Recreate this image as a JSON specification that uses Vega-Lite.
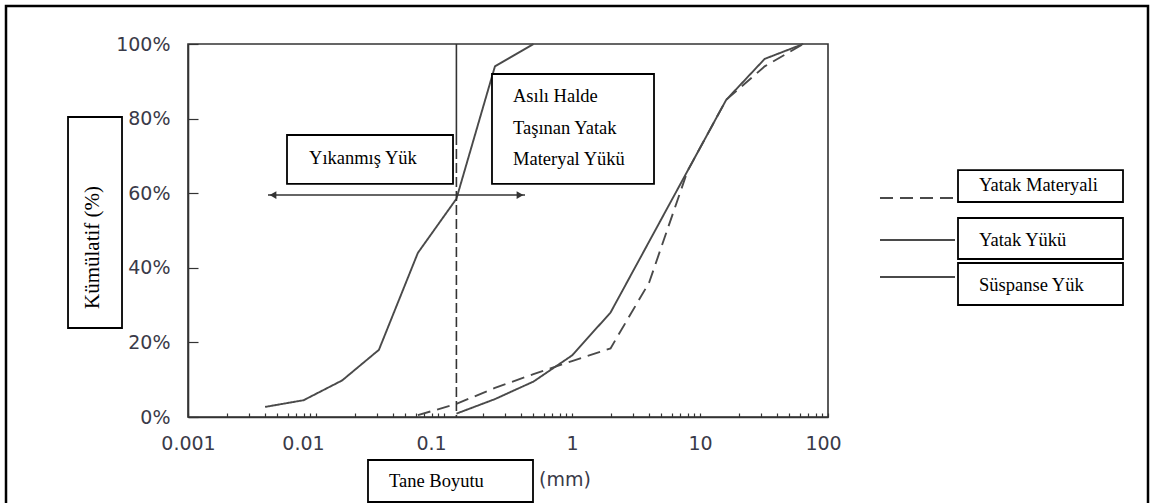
{
  "$schema": "https://vega.github.io/schema/vega-lite/v6.json",
  "width": 640,
  "height": 373,
  "autosize": {"type": "none"},
  "padding": {"left": 188, "top": 44, "right": 323, "bottom": 86},
  "background": "white",
  "config": {
    "view": {"stroke": "#333333", "strokeWidth": 1.6},
    "axis": {"domainColor": "#333333", "domainWidth": 1.6, "tickColor": "#333333", "tickWidth": 1.2, "grid": false, "labelFont": "DejaVu Sans", "labelFontSize": 19, "labelColor": "#3a3a48"}
  },
  "datasets": {
    "curves": [
      {"x": 0.004, "y": 2.7, "series": "Süspanse Yük"},
      {"x": 0.008, "y": 4.5, "series": "Süspanse Yük"},
      {"x": 0.016, "y": 9.8, "series": "Süspanse Yük"},
      {"x": 0.031, "y": 18, "series": "Süspanse Yük"},
      {"x": 0.0625, "y": 44, "series": "Süspanse Yük"},
      {"x": 0.125, "y": 58.5, "series": "Süspanse Yük"},
      {"x": 0.25, "y": 94, "series": "Süspanse Yük"},
      {"x": 0.5, "y": 100, "series": "Süspanse Yük"},
      {"x": 0.125, "y": 0.9, "series": "Yatak Yükü"},
      {"x": 0.25, "y": 4.8, "series": "Yatak Yükü"},
      {"x": 0.5, "y": 9.5, "series": "Yatak Yükü"},
      {"x": 1, "y": 16.5, "series": "Yatak Yükü"},
      {"x": 2, "y": 28, "series": "Yatak Yükü"},
      {"x": 4, "y": 47, "series": "Yatak Yükü"},
      {"x": 8, "y": 66, "series": "Yatak Yükü"},
      {"x": 16, "y": 85, "series": "Yatak Yükü"},
      {"x": 32, "y": 96, "series": "Yatak Yükü"},
      {"x": 64, "y": 100, "series": "Yatak Yükü"},
      {"x": 0.0625, "y": 0.5, "series": "Yatak Materyali"},
      {"x": 0.125, "y": 3.5, "series": "Yatak Materyali"},
      {"x": 0.25, "y": 7.8, "series": "Yatak Materyali"},
      {"x": 0.5, "y": 11.5, "series": "Yatak Materyali"},
      {"x": 1, "y": 15, "series": "Yatak Materyali"},
      {"x": 2, "y": 18.4, "series": "Yatak Materyali"},
      {"x": 4, "y": 36, "series": "Yatak Materyali"},
      {"x": 8, "y": 66, "series": "Yatak Materyali"},
      {"x": 16, "y": 85, "series": "Yatak Materyali"},
      {"x": 32, "y": 94, "series": "Yatak Materyali"},
      {"x": 64, "y": 100, "series": "Yatak Materyali"}
    ],
    "legendLines": [
      {"x": 254.8, "x2": 982, "y": 58.71, "series": "Yatak Materyali"},
      {"x": 254.8, "x2": 982, "y": 47.45, "series": "Yatak Yükü"},
      {"x": 254.8, "x2": 982, "y": 37.53, "series": "Süspanse Yük"}
    ],
    "boxes": [
      {"x": 0.005935, "x2": 0.1176, "y": 75.6, "y2": 62.5},
      {"x": 0.2371, "x2": 4.372, "y": 91.96, "y2": 62.5},
      {"x": 0.0001155, "x2": 0.0003051, "y": 80.43, "y2": 23.86},
      {"x": 0.02548, "x2": 0.4958, "y": -11.53, "y2": -22.79},
      {"x": 1036.6, "x2": 20171, "y": 66.2, "y2": 57.64},
      {"x": 1036.6, "x2": 20171, "y": 53.35, "y2": 42.36},
      {"x": 1036.6, "x2": 20171, "y": 41.29, "y2": 30.03}
    ],
    "texts": [
      {"x": 0.00882, "y": 69.4, "label": "Yıkanmış Yük"},
      {"x": 0.3459, "y": 86.06, "label": "Asılı Halde"},
      {"x": 0.3459, "y": 77.48, "label": "Taşınan Yatak"},
      {"x": 0.3459, "y": 69.17, "label": "Materyal Yükü"},
      {"x": 0.03718, "y": -17.16, "label": "Tane Boyutu"},
      {"x": 1512, "y": 62.2, "label": "Yatak Materyali"},
      {"x": 1512, "y": 47.45, "label": "Yatak Yükü"},
      {"x": 1512, "y": 35.39, "label": "Süspanse Yük"}
    ],
    "frame": [
      {"x": 0.00003786, "x2": 31623, "y": 110.19, "y2": -30}
    ]
  },
  "encoding": {
    "x": {"field": "x", "type": "quantitative", "scale": {"type": "log", "domain": [0.001, 100], "nice": false},
      "axis": {
        "title": null,
        "values": [0.001,0.002,0.003,0.004,0.005,0.006,0.007,0.008,0.009,0.01,0.02,0.03,0.04,0.05,0.06,0.07,0.08,0.09,0.1,0.2,0.3,0.4,0.5,0.6,0.7,0.8,0.9,1,2,3,4,5,6,7,8,9,10,20,30,40,50,60,70,80,90,100],
        "labelExpr": "indexof(['0.001','0.01','0.1','1','10','100'], format(datum.value, '~g')) >= 0 ? format(datum.value, '~g') : ''",
        "labelOffset": {"condition": [{"test": "datum.value > 0.005 && datum.value < 0.5", "value": -13}, {"test": "datum.value > 50", "value": -5}], "value": 0},
        "tickSize": -4, "labelPadding": 21, "labelOverlap": false, "labelFlush": false
      }},
    "y": {"field": "y", "type": "quantitative", "scale": {"domain": [0, 100], "nice": false, "zero": false},
      "axis": {"title": null, "values": [0, 20, 40, 60, 80, 100], "labelExpr": "datum.value + '%'", "tickSize": -10, "labelPadding": 28}}
  },
  "layer": [
    {
      "data": {"name": "curves"},
      "mark": {"type": "line", "strokeWidth": 1.9, "color": "#4a4a4a"},
      "encoding": {
        "detail": {"field": "series"},
        "strokeDash": {"field": "series", "type": "nominal", "scale": {"domain": ["Yatak Materyali", "Yatak Yükü", "Süspanse Yük"], "range": [[13, 7], [1, 0], [1, 0]]}, "legend": null}
      }
    },
    {
      "data": {"values": [{"x": 0.125, "y": 100, "y2": 75.6}]},
      "mark": {"type": "rule", "strokeWidth": 1.6, "color": "#333333", "clip": false},
      "encoding": {"y2": {"field": "y2"}}
    },
    {
      "data": {"values": [{"x": 0.125, "y": 75.6, "y2": 0}]},
      "mark": {"type": "rule", "strokeWidth": 1.6, "color": "#333333", "strokeDash": [10, 4], "clip": false},
      "encoding": {"y2": {"field": "y2"}}
    },
    {
      "data": {"values": [{"x": 0.004217, "x2": 0.4294, "y": 59.5}]},
      "mark": {"type": "rule", "strokeWidth": 1.6, "color": "#333333", "clip": false},
      "encoding": {"x2": {"field": "x2"}}
    },
    {
      "data": {"values": [{"x": 0.004613, "y": 59.5, "dir": "left"}, {"x": 0.3924, "y": 59.5, "dir": "right"}]},
      "mark": {"type": "point", "filled": true, "size": 60, "color": "#333333", "opacity": 1, "clip": false},
      "encoding": {
        "shape": {"field": "dir", "type": "nominal", "scale": {"domain": ["left", "right"], "range": ["triangle-left", "triangle-right"]}, "legend": null}
      }
    },
    {
      "data": {"name": "legendLines"},
      "mark": {"type": "rule", "strokeWidth": 2, "color": "#4a4a4a", "clip": false},
      "encoding": {
        "x2": {"field": "x2"},
        "strokeDash": {"field": "series", "type": "nominal", "legend": null}
      }
    },
    {
      "data": {"name": "boxes"},
      "mark": {"type": "rect", "fill": "white", "stroke": "black", "strokeWidth": 1.8, "clip": false},
      "encoding": {"x2": {"field": "x2"}, "y2": {"field": "y2"}}
    },
    {
      "data": {"name": "texts"},
      "mark": {"type": "text", "align": "left", "baseline": "middle", "font": "Liberation Serif, Times New Roman, serif", "fontSize": 18.5, "color": "black", "clip": false},
      "encoding": {"text": {"field": "label"}}
    },
    {
      "data": {"values": [{"x": 0.0001811, "y": 45.44, "label": "Kümülatif (%)"}]},
      "mark": {"type": "text", "align": "center", "baseline": "middle", "angle": 270, "font": "Liberation Serif, Times New Roman, serif", "fontSize": 21, "color": "black", "clip": false},
      "encoding": {"text": {"field": "label"}}
    },
    {
      "data": {"values": [{"x": 0.8815, "y": -16.89, "label": "(mm)"}]},
      "mark": {"type": "text", "align": "center", "baseline": "middle", "font": "DejaVu Sans", "fontSize": 19, "color": "#3a3a48", "clip": false},
      "encoding": {"text": {"field": "label"}}
    },
    {
      "data": {"name": "frame"},
      "mark": {"type": "rect", "fillOpacity": 0, "stroke": "black", "strokeWidth": 2.5, "clip": false},
      "encoding": {"x2": {"field": "x2"}, "y2": {"field": "y2"}}
    }
  ]
}
